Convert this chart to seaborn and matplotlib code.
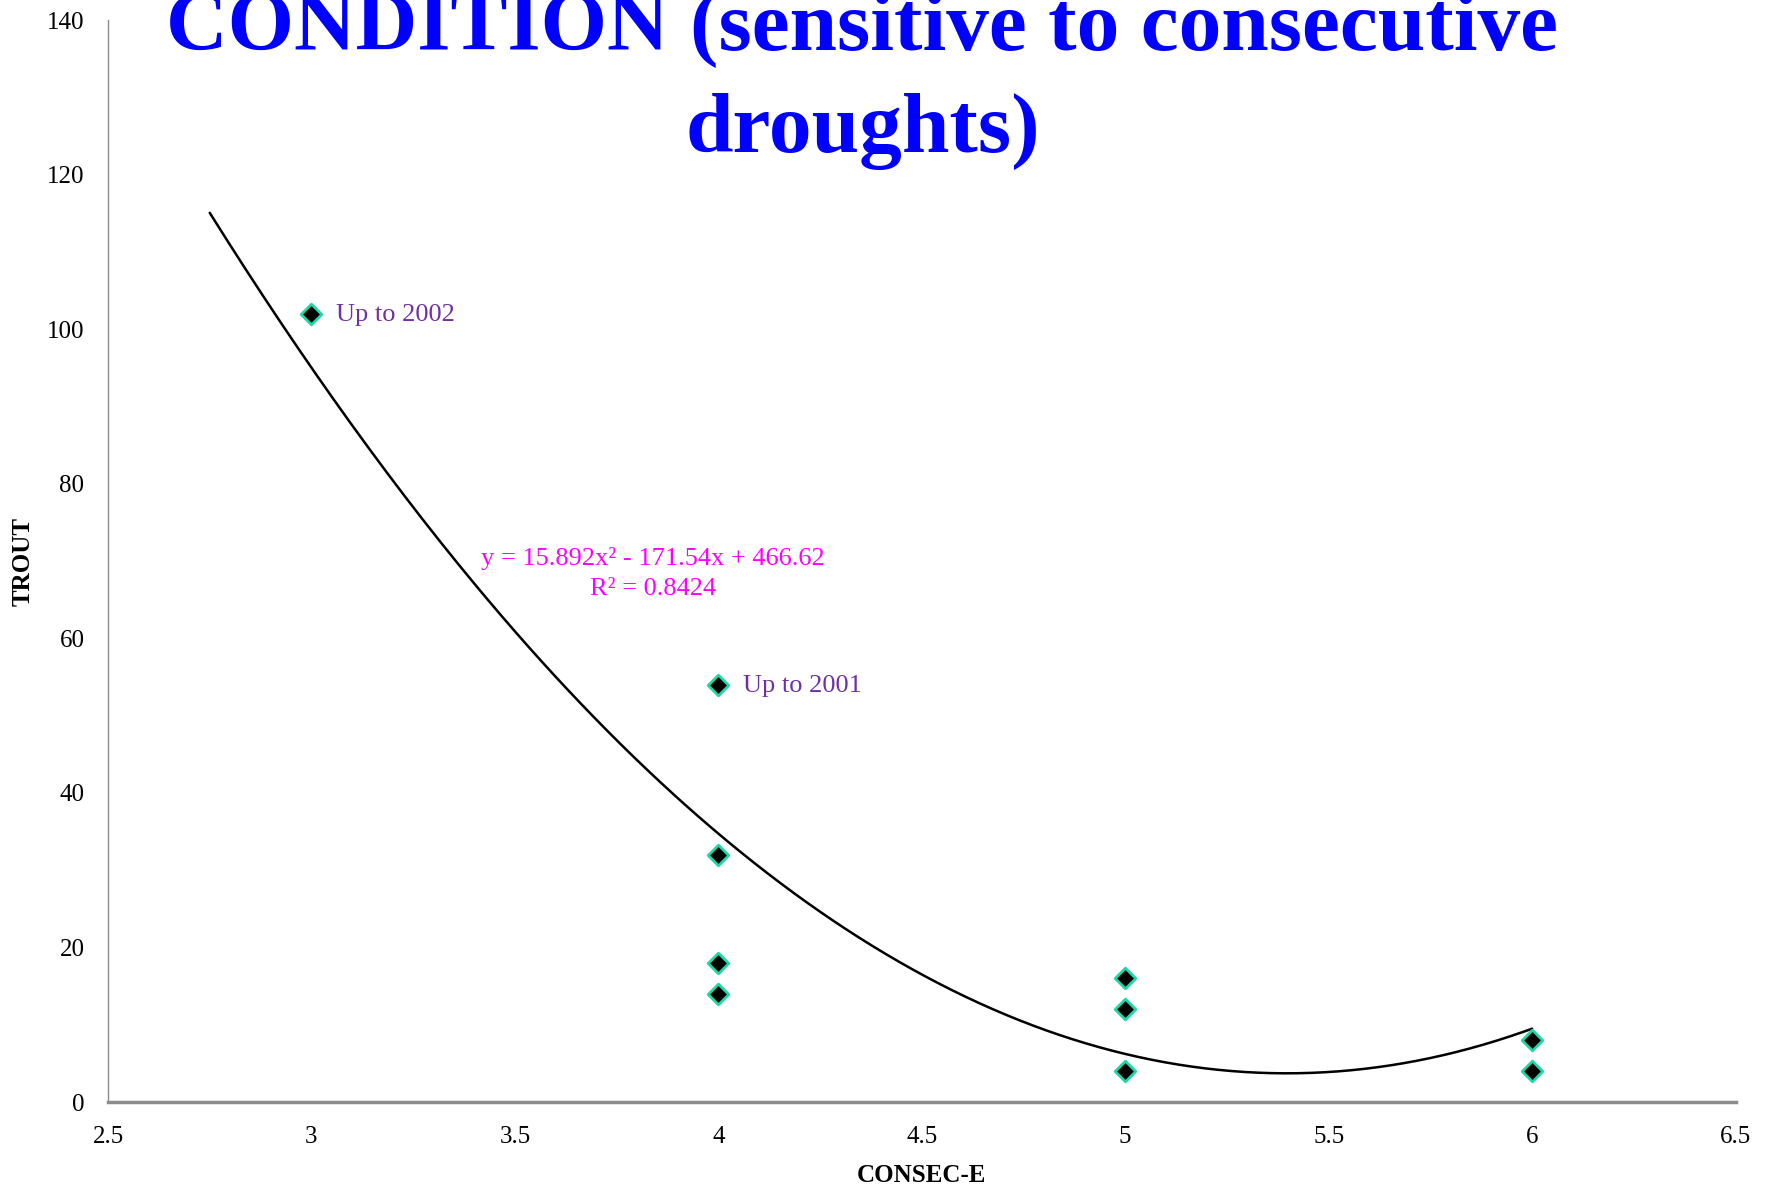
import numpy as np
import pandas as pd
import seaborn as sns
import matplotlib.pyplot as plt

# Data
consec_e = [3, 4, 4, 4, 4, 5, 5, 5, 6, 6]
trout = [102, 54, 32, 18, 14, 16, 12, 4, 8, 4]

# Trendline (Excel poly order 2), as printed on the chart
coef = [15.892, -171.54, 466.62]
r2 = 0.8424
trend_start, trend_end = 2.75, 6.0

labels = {(3, 102): "Up to 2002", (4, 54): "Up to 2001"}

x_ticks = [2.5, 3, 3.5, 4, 4.5, 5, 5.5, 6, 6.5]
y_ticks = [0, 20, 40, 60, 80, 100, 120, 140]

sns.set_style("white")
plt.rcParams['font.family'] = ['Liberation Serif', 'DejaVu Serif']
plt.rcParams['text.color'] = 'black'
plt.rcParams['xtick.color'] = 'black'
plt.rcParams['ytick.color'] = 'black'
plt.rcParams['axes.labelcolor'] = 'black'

df = pd.DataFrame({'CONSEC-E': consec_e, 'TROUT': trout})
tx = np.linspace(trend_start, trend_end, 300)
trend = pd.DataFrame({'x': tx, 'y': np.polyval(coef, tx)})

fig = plt.figure(figsize=(17.71, 11.87), dpi=100)
ax = fig.add_axes([0.061, 0.0716, 0.919, 0.9114])

sns.lineplot(data=trend, x='x', y='y', color='black', linewidth=1.8, ax=ax)
sns.scatterplot(data=df, x='CONSEC-E', y='TROUT', marker='D', s=110,
                color='black', edgecolor='#1fd6a6', linewidth=2, ax=ax, zorder=3)

for (px, py), txt in labels.items():
    ax.annotate(txt, (px, py), xytext=(18, -1), textcoords='offset points',
                va='center', ha='left', fontsize=19, color='#7030a0')

ax.text(3.84, 68.4, f"y = {coef[0]}x\u00b2 - {abs(coef[1])}x + {coef[2]}\nR\u00b2 = {r2}",
        ha='center', va='center', fontsize=19, color='#ff00ff', linespacing=1.45)

ax.set_xlim(2.5, 6.5)
ax.set_ylim(0, 140)
ax.set_xticks(x_ticks)
ax.set_xticklabels([f"{t:g}" for t in x_ticks])
ax.set_yticks(y_ticks)
ax.tick_params(axis='both', length=0, labelsize=18)
ax.tick_params(axis='x', pad=17)
ax.tick_params(axis='y', pad=17)

ax.set_xlabel('CONSEC-E', fontsize=18, fontweight='bold')
ax.set_ylabel('TROUT', fontsize=18, fontweight='bold')
ax.xaxis.set_label_coords(0.5, -0.057)
ax.yaxis.set_label_coords(-0.045, 0.5)

sns.despine(ax=ax)
ax.spines['left'].set_color('#8c8c8c')
ax.spines['left'].set_linewidth(1)
ax.spines['bottom'].set_color('#8c8c8c')
ax.spines['bottom'].set_linewidth(2.5)

fig.text(0.487, 1 - 50 / 1187, 'CONDITION (sensitive to consecutive',
         ha='center', va='baseline', fontsize=61.5, fontweight='bold', color='#0000ff')
fig.text(0.487, 1 - 152 / 1187, 'droughts)',
         ha='center', va='baseline', fontsize=61.5, fontweight='bold', color='#0000ff')

fig.savefig('out.png', dpi=100)
